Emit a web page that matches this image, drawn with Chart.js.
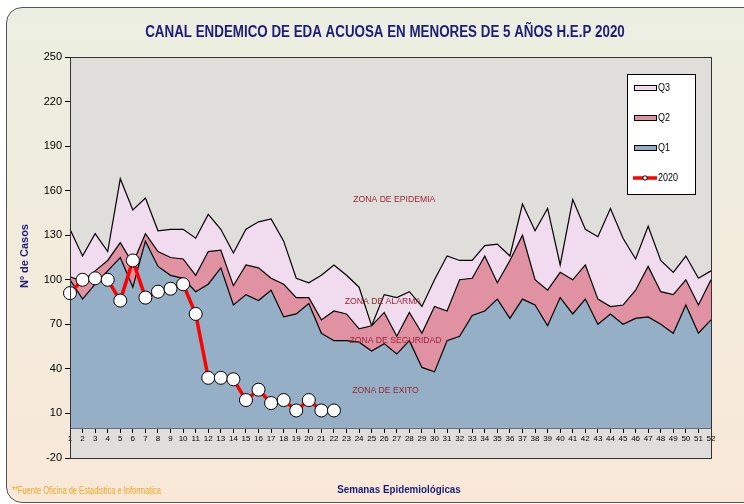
<!DOCTYPE html>
<html>
<head>
<meta charset="utf-8">
<script src="https://cdn.jsdelivr.net/npm/chart.js@4.4.1/dist/chart.umd.min.js"></script>
<style>
  body { margin: 0; background: #fff; }
  #wrap { position: relative; width: 744px; height: 504px; overflow: hidden; }
  #frame { position: absolute; left: 6px; top: 7px; width: 790px; height: 494px; border: 1.5px solid #555; border-radius: 16px; background: linear-gradient(#ebefe1, #f9e8d8); }
  canvas { position: absolute; left: 0; top: 0; }
</style>
</head>
<body>
<div id="wrap"><div id="frame"></div><canvas id="chart" width="744" height="504"></canvas></div>
<script>
// semanas epidemiologicas
const weeks = ['1','2','3','4','5','6','7','8','9','10','11','12','13','14','15','16','17','18','19','20',
  '21','22','23','24','25','26','27','28','29','30','31','32','33','34','35','36','37','38','39','40',
  '41','42','43','44','45','46','47','48','49','50','51','52'];

// cuartiles del canal endemico
const q1 = [100, 87, 97, 106, 115, 95, 126, 109, 103, 101, 92, 97, 108, 83, 90, 86, 93, 75, 77, 84,
  64, 59, 59, 58, 52, 57, 50, 59, 41, 38, 59, 62, 76, 79, 87, 74, 87, 83, 69, 88,
  77, 87, 70, 77, 70, 74, 75, 70, 64, 83, 64, 73];
const q2 = [102, 99, 106, 113, 125, 111, 131, 119, 115, 114, 103, 119, 120, 96, 110, 108, 101, 97, 88, 88,
  73, 79, 77, 67, 69, 78, 62, 78, 64, 82, 79, 100, 101, 116, 98, 113, 130, 100, 93, 105,
  100, 110, 87, 82, 83, 93, 109, 92, 90, 100, 83, 100];
const q3 = [134, 116, 131, 119, 168, 147, 155, 133, 134, 134, 128, 144, 134, 118, 134, 139, 141, 126, 101, 98,
  103, 110, 103, 95, 69, 90, 88, 92, 82, 100, 116, 113, 113, 123, 124, 116, 151, 133, 148, 110,
  154, 134, 129, 148, 128, 114, 136, 113, 105, 116, 101, 106];

// casos 2020 (hasta la semana 22)
const cases2020 = [91, 100, 101, 100, 86, 113, 88, 92, 94, 97, 77, 34, 34, 33, 19, 26, 17, 19, 12, 19, 12, 12];

const yTicks = { min: -20, max: 250, step: 30 };

const FONT = "'Liberation Sans Narrow', 'Arial Narrow', 'Liberation Sans', Arial, sans-serif";
const NAVY = '#1c1c7c';

const zones = [
  { text: 'ZONA DE EPIDEMIA', x: 25.8, y: 154 },
  { text: 'ZONA DE ALARMA', x: 24.9, y: 85.5 },
  { text: 'ZONA DE SEGURIDAD', x: 25.9, y: 59 },
  { text: 'ZONA DE EXITO', x: 25.1, y: 25.5 }
];

// texto estrecho (como Arial Narrow)
function narrowText(ctx, text, x, y, sx) {
  ctx.save();
  ctx.translate(x, y);
  ctx.scale(sx, 1);
  ctx.fillText(text, 0, 0);
  ctx.restore();
}

const decor = {
  id: 'decor',
  beforeDraw(chart) {
    const { ctx, chartArea: a } = chart;
    ctx.save();
    ctx.fillStyle = '#e0dedb';
    ctx.fillRect(a.left, a.top, a.right - a.left, a.bottom - a.top);
    ctx.restore();
  },
  afterDatasetsDraw(chart) {
    const { ctx, scales } = chart;
    ctx.save();
    ctx.fillStyle = '#9e2333';
    ctx.font = '9px ' + FONT;
    ctx.textAlign = 'center';
    ctx.textBaseline = 'middle';
    zones.forEach(z => {
      narrowText(ctx, z.text, scales.x.getPixelForValue(z.x), scales.y.getPixelForValue(z.y), 0.96);
    });
    ctx.restore();
  },
  afterDraw(chart) {
    const { ctx, chartArea: a } = chart;
    ctx.save();
    // marco del area de trazado
    ctx.strokeStyle = '#333';
    ctx.lineWidth = 1;
    ctx.strokeRect(a.left + 0.5, a.top + 0.5, a.right - a.left, a.bottom - a.top);

    // titulos
    ctx.fillStyle = NAVY;
    ctx.textAlign = 'center';
    ctx.textBaseline = 'middle';
    ctx.font = 'bold 16px ' + FONT;
    narrowText(ctx, 'CANAL ENDEMICO DE EDA ACUOSA EN MENORES DE 5 AÑOS H.E.P 2020', 385, 33, 0.835);
    ctx.font = 'bold 11px ' + FONT;
    narrowText(ctx, 'Semanas Epidemiológicas', 399, 490, 0.89);
    ctx.save();
    ctx.translate(25, 256);
    ctx.rotate(-Math.PI / 2);
    ctx.fillText('Nº de Casos', 0, 0);
    ctx.restore();

    ctx.fillStyle = '#f5a623';
    ctx.textAlign = 'left';
    ctx.font = '10px ' + FONT;
    narrowText(ctx, '**Fuente Oficina de Estadistica e Informatica', 12, 491, 0.75);

    // leyenda
    ctx.fillStyle = '#fff';
    ctx.fillRect(627, 74, 68, 120);
    ctx.strokeStyle = '#000';
    ctx.strokeRect(627.5, 74.5, 68, 120);
    const items = [chart.data.datasets[3], chart.data.datasets[2], chart.data.datasets[1]];
    items.forEach((ds, i) => {
      const y = 88 + i * 30;
      ctx.fillStyle = ds.backgroundColor;
      ctx.fillRect(634, y - 2.5, 22, 5);
      ctx.strokeStyle = '#000';
      ctx.lineWidth = 1;
      ctx.strokeRect(634.5, y - 2.5, 22, 5);
      ctx.fillStyle = '#000';
      ctx.font = '10px ' + FONT;
      ctx.textAlign = 'left';
      narrowText(ctx, ds.label, 658, y, 0.9);
    });
    const ly = 178;
    ctx.strokeStyle = '#ff0000';
    ctx.lineWidth = 3.5;
    ctx.beginPath();
    ctx.moveTo(633, ly);
    ctx.lineTo(657, ly);
    ctx.stroke();
    ctx.fillStyle = '#fff';
    ctx.strokeStyle = '#000';
    ctx.lineWidth = 1;
    ctx.beginPath();
    ctx.arc(645, ly, 2.2, 0, Math.PI * 2);
    ctx.fill();
    ctx.stroke();
    ctx.fillStyle = '#000';
    narrowText(ctx, '2020', 658, ly, 0.9);
    ctx.restore();
  }
};

new Chart(document.getElementById('chart'), {
  type: 'line',
  data: {
    labels: weeks,
    datasets: [
      {
        label: '2020',
        data: cases2020,
        borderColor: '#ff0000',
        borderWidth: 3.5,
        pointRadius: 6.5,
        pointBackgroundColor: '#fff',
        pointBorderColor: '#000',
        pointBorderWidth: 1,
        fill: false
      },
      {
        label: 'Q1',
        data: q1,
        borderColor: '#000',
        borderWidth: 1.2,
        backgroundColor: '#94afc6',
        pointRadius: 0,
        fill: 'origin'
      },
      {
        label: 'Q2',
        data: q2,
        borderColor: '#000',
        borderWidth: 1.2,
        backgroundColor: '#e092a3',
        pointRadius: 0,
        fill: 'origin'
      },
      {
        label: 'Q3',
        data: q3,
        borderColor: '#000',
        borderWidth: 1.2,
        backgroundColor: '#f1dcef',
        pointRadius: 0,
        fill: 'origin'
      }
    ]
  },
  options: {
    responsive: false,
    animation: false,
    devicePixelRatio: 1,
    layout: { padding: { left: 0, top: 57, right: 33, bottom: 46 } },
    elements: { line: { tension: 0 } },
    plugins: {
      legend: { display: false },
      tooltip: { enabled: false },
      title: { display: false }
    },
    scales: {
      x: {
        position: { y: 0 },
        offset: false,
        ticks: { autoSkip: false, maxRotation: 0, color: '#000', font: { family: FONT, size: 8 }, padding: 2 },
        grid: { drawOnChartArea: false, tickLength: 4, tickColor: '#000', offset: false },
        border: { color: '#000', width: 1 }
      },
      y: {
        min: yTicks.min,
        max: yTicks.max,
        ticks: { stepSize: yTicks.step, color: '#000', font: { family: FONT, size: 11 }, padding: 3 },
        grid: { drawOnChartArea: false, tickLength: 5, tickColor: '#000' },
        border: { display: true, color: '#000', width: 1 },
        afterFit(scale) { scale.width = 70; }
      }
    }
  },
  plugins: [decor]
});
</script>
</body>
</html>
